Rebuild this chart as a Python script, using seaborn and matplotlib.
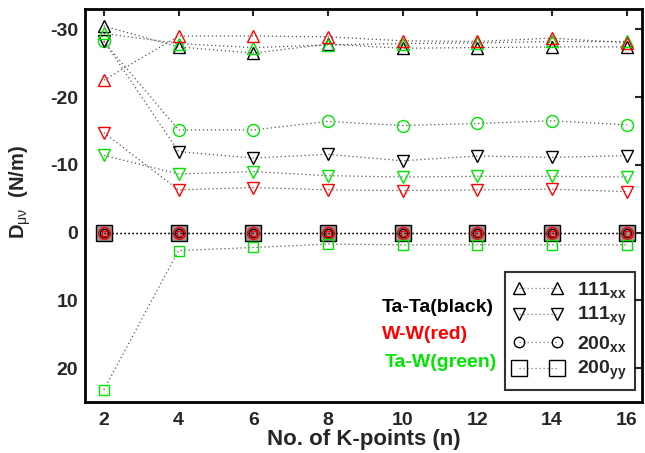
import matplotlib
matplotlib.use("Agg")
import matplotlib.pyplot as plt
import seaborn as sns
from matplotlib.lines import Line2D

sns.set_style("white")
plt.rcParams['font.family'] = ['Liberation Sans', 'DejaVu Sans']
plt.rcParams['axes.unicode_minus'] = False
plt.rcParams['mathtext.fontset'] = 'custom'
plt.rcParams['mathtext.rm'] = 'Liberation Sans:bold'
plt.rcParams['mathtext.it'] = 'Liberation Sans'
plt.rcParams['mathtext.bf'] = 'Liberation Sans:bold'

kpoints = [2, 4, 6, 8, 10, 12, 14, 16]

tata_111xx = [-30.5, -27.4, -26.5, -27.8, -27.2, -27.3, -27.4, -27.4]
tata_111xy = [-28.3, -11.95, -11.0, -11.55, -10.6, -11.3, -11.1, -11.35]
tata_200xx = [0.0, 0.0, 0.0, 0.0, 0.0, 0.0, 0.0, 0.0]
tata_200yy = [0.0, 0.0, 0.0, 0.0, 0.0, 0.0, 0.0, 0.0]

ww_111xx = [-22.5, -29.0, -29.0, -28.9, -28.3, -28.2, -28.7, -28.0]
ww_111xy = [-14.75, -6.3, -6.65, -6.3, -6.2, -6.3, -6.4, -6.05]
ww_200xx = [0.0, 0.0, 0.0, 0.0, 0.0, 0.0, 0.0, 0.0]
ww_200yy = [0.0, 0.0, 0.0, 0.0, 0.0, 0.0, 0.0, 0.0]

taw_111xx = [-29.4, -27.9, -27.3, -27.7, -27.9, -28.0, -28.2, -28.2]
taw_111xy = [-11.4, -8.65, -9.0, -8.4, -8.2, -8.3, -8.3, -8.2]
taw_200xx = [-28.2, -15.15, -15.15, -16.4, -15.8, -16.1, -16.5, -15.9]
taw_200yy = [23.2, 2.65, 2.2, 1.7, 1.8, 1.8, 1.8, 1.8]

yticks = [-30, -20, -10, 0, 10, 20]

BLACK = '#000000'
RED = '#ff0000'
GREEN = '#00e600'
LINE = '#555555'
DOT = (0, (1, 2.2))

fig = plt.figure(figsize=(6.45, 4.53), dpi=100)
ax = fig.add_axes([0.132, 0.1126, 0.863, 0.8676])


def series(vals, marker, ms, ec, fc='none', lc=LINE):
    sns.lineplot(x=kpoints, y=vals, ax=ax, color=lc, linestyle=DOT, linewidth=0.9,
                 marker=marker, markersize=ms, markerfacecolor=fc,
                 markeredgecolor=ec, markeredgewidth=1.0)


# zero-valued 200 series (drawn first, big to small)
series(tata_200yy, 's', 11.5, BLACK, fc='#9a9a9a', lc='#222222')
series(ww_200xx, 'o', 8.6, RED, lc='#222222')
series(tata_200xx, 'o', 6.0, BLACK, lc='#222222')
series(ww_200yy, 's', 3.6, RED, lc='#222222')

# green 200
series(taw_200yy, 's', 7.2, GREEN)
series(taw_200xx, 'o', 8.6, GREEN)

# 111 series
series(tata_111xy, 'v', 8.6, BLACK)
series(ww_111xy, 'v', 8.6, RED)
series(taw_111xy, 'v', 8.6, GREEN)
series(tata_111xx, '^', 8.6, BLACK)
series(taw_111xx, '^', 8.6, GREEN)
series(ww_111xx, '^', 8.6, RED)

ax.set_xlim(1.5, 16.4)
ax.set_ylim(25, -33)
ax.set_xticks(kpoints)
ax.set_yticks(yticks)
ax.set_xticklabels([str(k) for k in kpoints])
ax.set_yticklabels([str(t) for t in yticks])
ax.tick_params(direction='in', top=True, right=True, length=5, width=1.5,
               labelsize=14)
ax.tick_params(axis='x', pad=7)
ax.tick_params(axis='y', pad=5)
for lab in ax.get_xticklabels() + ax.get_yticklabels():
    lab.set_fontweight('bold')
for sp in ax.spines.values():
    sp.set_linewidth(2)
    sp.set_color('black')

ax.set_xlabel('No. of K-points (n)', fontsize=16, fontweight='bold', labelpad=0)
ax.set_ylabel(r'D$_{\mu\nu}$  (N/m)', fontsize=14.5, fontweight='bold')
ax.yaxis.set_label_coords(-0.094, 0.534)

ax.text(9.45, 11.1, 'Ta-Ta(black)', color=BLACK, fontsize=14, fontweight='bold',
        ha='left', va='center')
ax.text(9.45, 15.1, 'W-W(red)', color=RED, fontsize=14, fontweight='bold',
        ha='left', va='center')
ax.text(9.52, 19.2, 'Ta-W(green)', color=GREEN, fontsize=14, fontweight='bold',
        ha='left', va='center')

handles = [
    Line2D([], [], color='#777777', linestyle=DOT, linewidth=0.9, marker='^',
           markersize=8.6, mfc='none', mec='black'),
    Line2D([], [], color='#777777', linestyle=DOT, linewidth=0.9, marker='v',
           markersize=8.6, mfc='none', mec='black'),
    Line2D([], [], color='#777777', linestyle=DOT, linewidth=0.9, marker='o',
           markersize=7.5, mfc='none', mec='black'),
    Line2D([], [], color='#777777', linestyle=DOT, linewidth=0.9, marker='s',
           markersize=12, mfc='none', mec='black'),
]
labels = [r'111$_{\mathregular{xx}}$', r'111$_{\mathregular{xy}}$',
          r'200$_{\mathregular{xx}}$', r'200$_{\mathregular{yy}}$']
leg = ax.legend(handles, labels, loc='lower right', bbox_to_anchor=(0.987, 0.03),
                numpoints=2, fancybox=False, frameon=True, handlelength=2.6,
                prop={'size': 14, 'weight': 'bold'}, borderpad=0.4,
                labelspacing=0.28, handletextpad=0.7, borderaxespad=0)
leg.get_frame().set_edgecolor('black')
leg.get_frame().set_linewidth(1.5)

fig.savefig('out.png', dpi=100)
